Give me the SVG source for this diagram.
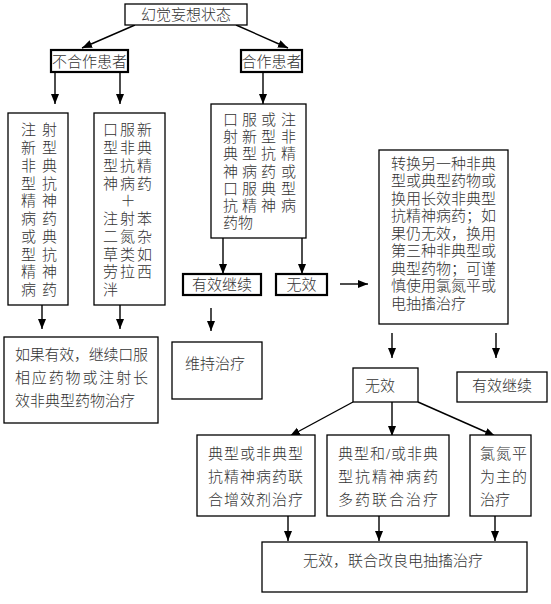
<svg xmlns="http://www.w3.org/2000/svg" width="551" height="604" viewBox="0 0 551 604">
<style>
  text { font-family: "Liberation Serif", "Noto Sans CJK SC", serif; fill: #333; font-size: 15px; font-weight: 300; }
  .s14 { font-size: 14px; }
  .mid { text-anchor: middle; }
  .box { fill: #fff; stroke: #000; stroke-width: 1.3; }
  .bold { fill: #fff; stroke: #000; stroke-width: 2.2; }
  .con line { stroke: #000; stroke-width: 1.4; }
</style>
<defs>
  <marker id="ah" markerUnits="userSpaceOnUse" markerWidth="12" markerHeight="10" refX="10" refY="4" orient="auto">
    <path d="M0,0 L10,4 L0,8 Z" fill="#000"/>
  </marker>
</defs>
<rect width="551" height="604" fill="#fff"/>

<g class="con">
  <line x1="135" y1="25" x2="82" y2="48" marker-end="url(#ah)"/>
  <line x1="236" y1="25" x2="288" y2="48" marker-end="url(#ah)"/>
  <line x1="55" y1="72" x2="55" y2="104" marker-end="url(#ah)"/>
  <line x1="120" y1="72" x2="120" y2="104" marker-end="url(#ah)"/>
  <line x1="263" y1="72" x2="263" y2="104" marker-end="url(#ah)"/>
  <line x1="223" y1="238" x2="223" y2="274" marker-end="url(#ah)"/>
  <line x1="302" y1="238" x2="302" y2="274" marker-end="url(#ah)"/>
  <line x1="340" y1="284" x2="368" y2="284" marker-end="url(#ah)"/>
  <line x1="211" y1="308" x2="211" y2="331" marker-end="url(#ah)"/>
  <line x1="42" y1="305" x2="42" y2="329" marker-end="url(#ah)"/>
  <line x1="120" y1="305" x2="120" y2="329" marker-end="url(#ah)"/>
  <line x1="392" y1="333" x2="392" y2="358" marker-end="url(#ah)"/>
  <line x1="496" y1="333" x2="496" y2="358" marker-end="url(#ah)"/>
  <line x1="353" y1="402" x2="290" y2="436" marker-end="url(#ah)"/>
  <line x1="392" y1="402" x2="392" y2="436" marker-end="url(#ah)"/>
  <line x1="418" y1="402" x2="495" y2="436" marker-end="url(#ah)"/>
  <line x1="288" y1="516" x2="288" y2="541" marker-end="url(#ah)"/>
  <line x1="379" y1="516" x2="379" y2="541" marker-end="url(#ah)"/>
  <line x1="495" y1="516" x2="495" y2="541" marker-end="url(#ah)"/>
</g>

<g id="start">
  <rect class="box" x="125" y="4" width="122" height="21"/>
  <text class="mid" x="186" y="20">幻觉妄想状态</text>
</g>

<g id="uncoop">
  <rect class="bold" x="51" y="50" width="77" height="22"/>
  <text class="mid" x="89.5" y="66.5">不合作患者</text>
</g>

<g id="coop">
  <rect class="bold" x="241" y="50" width="61" height="22"/>
  <text class="mid" x="271.5" y="66.5">合作患者</text>
</g>

<g id="inject">
  <rect class="box" x="8" y="113" width="60" height="192"/>
  <g class="s14">
    <text x="21 42" y="135">注射</text>
    <text x="21 42" y="153">新型</text>
    <text x="21 42" y="171">非典</text>
    <text x="21 42" y="189">型抗</text>
    <text x="21 42" y="206">精神</text>
    <text x="21 42" y="224">病药</text>
    <text x="21 42" y="242">或典</text>
    <text x="21 42" y="260">型抗</text>
    <text x="21 42" y="277">精神</text>
    <text x="21 42" y="295">病药</text>
  </g>
</g>

<g id="oral">
  <rect class="box" x="94" y="113" width="71" height="192"/>
  <g class="s14">
    <text x="103 120 137" y="135">口服新</text>
    <text x="103 120 137" y="153">型非典</text>
    <text x="103 120 137" y="171">型抗精</text>
    <text x="103 120 137" y="189">神病药</text>
    <text class="mid" x="128" y="206">＋</text>
    <text x="103 120 137" y="224">注射苯</text>
    <text x="103 120 137" y="242">二氮杂</text>
    <text x="103 120 137" y="260">草类如</text>
    <text x="103 120 137" y="277">劳拉西</text>
    <text x="103 120 137" y="295">泮</text>
  </g>
</g>

<g id="coopTreat">
  <rect class="box" x="211" y="104" width="95" height="134"/>
  <g class="s14">
    <text x="223 242 261 281" y="125">口服或注</text>
    <text x="223 242 261 281" y="142">射新型非</text>
    <text x="223 242 261 281" y="159">典型抗精</text>
    <text x="223 242 261 281" y="177">神病药或</text>
    <text x="223 242 261 281" y="194">口服典型</text>
    <text x="223 242 261 281" y="211">抗精神病</text>
    <text x="223 238" y="228">药物</text>
  </g>
</g>

<g id="effective1">
  <rect class="bold" x="183" y="274" width="78" height="21"/>
  <text class="mid" x="222" y="290">有效继续</text>
</g>

<g id="ineffective1">
  <rect class="bold" x="276" y="274" width="51" height="21"/>
  <text class="mid" x="301.5" y="290">无效</text>
</g>

<g id="switch">
  <rect class="box" x="379" y="150" width="129" height="174"/>
  <text x="391" y="168.5">转换另一种非典</text>
  <text x="391" y="186">型或典型药物或</text>
  <text x="391" y="203.5">换用长效非典型</text>
  <text x="391" y="221">抗精神病药；如</text>
  <text x="391" y="238.5">果仍无效，换用</text>
  <text x="391" y="256">第三种非典型或</text>
  <text x="391" y="273.5">典型药物；可谨</text>
  <text x="391" y="291">慎使用氯氮平或</text>
  <text x="391" y="308.5">电抽搐治疗</text>
</g>

<g id="ifEffective">
  <rect class="box" x="4" y="337" width="154" height="86"/>
  <text x="15" y="360" textLength="133" lengthAdjust="spacing">如果有效，继续口服</text>
  <text x="15" y="383" textLength="133" lengthAdjust="spacing">相应药物或注射长</text>
  <text x="15" y="406">效非典型药物治疗</text>
</g>

<g id="maintain">
  <rect class="box" x="172" y="342" width="90" height="57"/>
  <text x="185" y="368.5">维持治疗</text>
</g>

<g id="ineffective2">
  <rect class="box" x="353" y="368" width="65" height="34"/>
  <text x="365" y="390.5">无效</text>
</g>

<g id="effective2">
  <rect class="box" x="457" y="372" width="90" height="30"/>
  <text class="mid" x="502" y="390.5">有效继续</text>
</g>

<g id="augment">
  <rect class="box" x="197" y="435" width="118" height="81"/>
  <text x="208" y="458.5" textLength="95" lengthAdjust="spacing">典型或非典型</text>
  <text x="208" y="481.5" textLength="95" lengthAdjust="spacing">抗精神病药联</text>
  <text x="208" y="504.5" textLength="95" lengthAdjust="spacing">合增效剂治疗</text>
</g>

<g id="combo">
  <rect class="box" x="327" y="435" width="122" height="81"/>
  <text x="338" y="458.5" textLength="100" lengthAdjust="spacing">典型和/或非典</text>
  <text x="338" y="481.5" textLength="100" lengthAdjust="spacing">型抗精神病药</text>
  <text x="338" y="504.5" textLength="100" lengthAdjust="spacing">多药联合治疗</text>
</g>

<g id="clozapine">
  <rect class="box" x="470" y="435" width="61" height="81"/>
  <text x="480" y="458.5" textLength="47" lengthAdjust="spacing">氯氮平</text>
  <text x="480" y="481.5" textLength="47" lengthAdjust="spacing">为主的</text>
  <text x="480" y="504.5">治疗</text>
</g>

<g id="ect">
  <rect class="box" x="262" y="542" width="265" height="50"/>
  <text x="303" y="565.5">无效，联合改良电抽搐治疗</text>
</g>
</svg>
